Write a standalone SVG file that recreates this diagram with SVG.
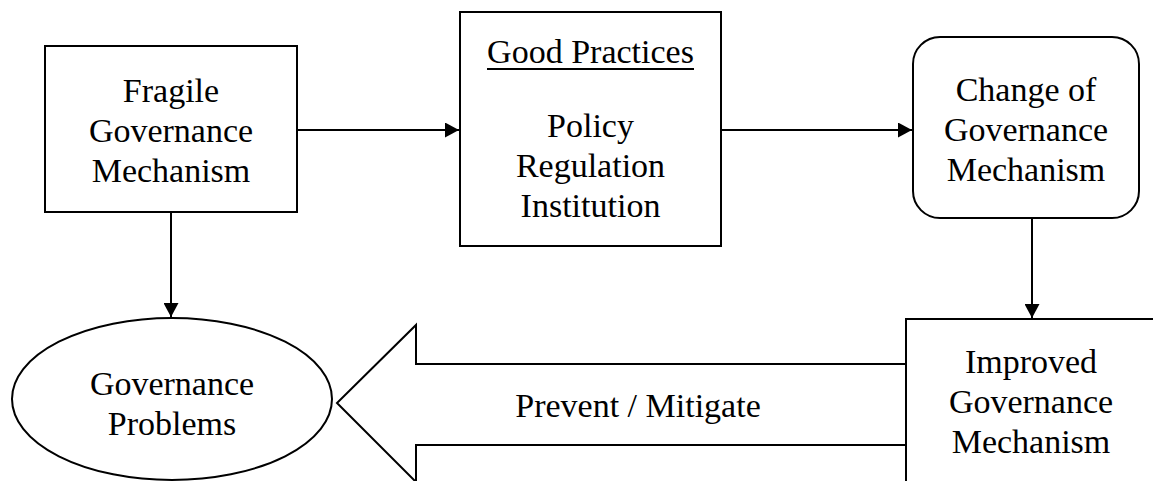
<svg xmlns="http://www.w3.org/2000/svg" width="1153" height="481" viewBox="0 0 1153 481">
<style>
.shape{fill:#fff;stroke:#000;stroke-width:2}
.line{fill:none;stroke:#000;stroke-width:2}
text{font-family:"Liberation Serif","Times New Roman",serif;font-size:34px;fill:#000;text-anchor:middle}
</style>
<defs>
<marker id="ah" markerWidth="14" markerHeight="15" refX="14" refY="7.5" orient="auto" markerUnits="userSpaceOnUse">
<path d="M0,0 L14,7.5 L0,15 Z" fill="#000"/>
</marker>
</defs>
<rect width="1153" height="481" fill="#fff"/>
<g id="connectors">
<line class="line" x1="297" y1="130" x2="459" y2="130" marker-end="url(#ah)"/>
<line class="line" x1="721" y1="130" x2="912" y2="130" marker-end="url(#ah)"/>
<line class="line" x1="171" y1="212" x2="171" y2="317" marker-end="url(#ah)"/>
<line class="line" x1="1032" y1="218" x2="1032" y2="318" marker-end="url(#ah)"/>
<g id="prevent-arrow">
<path class="shape" d="M906,364 L416,364 L416,325 L337,403 L416,482 L416,445 L906,445"/>
<text x="638" y="417">Prevent / Mitigate</text>
</g>
</g>
<g id="fragile">
<rect class="shape" x="45" y="46" width="252" height="166"/>
<text x="171" y="102">Fragile</text>
<text x="171" y="142">Governance</text>
<text x="171" y="182">Mechanism</text>
</g>
<g id="good-practices">
<rect class="shape" x="460" y="12" width="261" height="234"/>
<text x="590.5" y="63">Good Practices</text>
<line class="line" x1="487" y1="69" x2="694" y2="69"/>
<text x="590.5" y="137">Policy</text>
<text x="590.5" y="177">Regulation</text>
<text x="590.5" y="217">Institution</text>
</g>
<g id="change">
<rect class="shape" x="913" y="37" width="226" height="181" rx="27" ry="27"/>
<text x="1026" y="101">Change of</text>
<text x="1026" y="141">Governance</text>
<text x="1026" y="181">Mechanism</text>
</g>
<g id="improved">
<rect class="shape" x="906" y="319" width="252" height="180"/>
<text x="1031" y="373">Improved</text>
<text x="1031" y="413">Governance</text>
<text x="1031" y="453">Mechanism</text>
</g>
<g id="problems">
<ellipse class="shape" cx="172" cy="399" rx="160" ry="81"/>
<text x="172" y="395">Governance</text>
<text x="172" y="435">Problems</text>
</g>
</svg>
